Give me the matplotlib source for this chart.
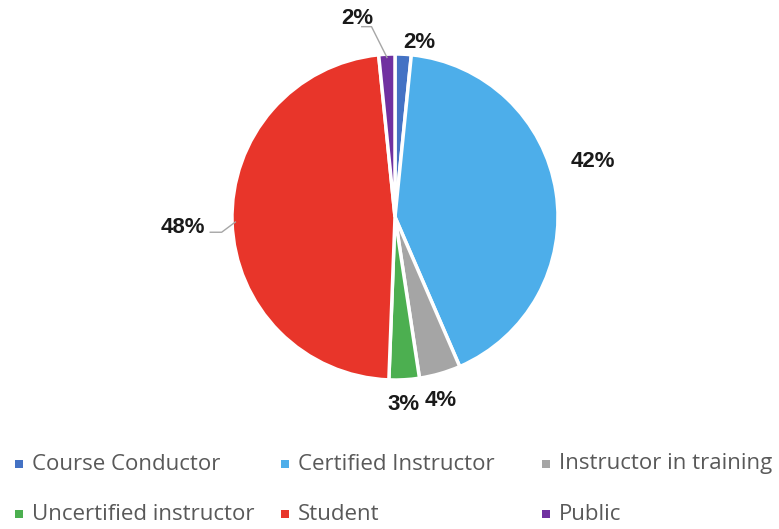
import numpy as np
import matplotlib.pyplot as plt
from matplotlib.patches import Rectangle

# Participant roles and their shares (%)
roles = ['Course Conductor', 'Certified Instructor', 'Instructor in training',
         'Uncertified instructor', 'Student', 'Public']
shares = [1.6, 41.9, 4.1, 3.0, 47.8, 1.6]
colors = ['#4472C4', '#4DAEEA', '#A5A5A5', '#4CAF50', '#E8352A', '#7030A0']

# label placement: radius factor and angle nudge (deg) per slice
lab_r = [1.08, 1.26, 1.16, 1.15, 1.30, 1.24]
lab_da = [-5, 7, -2, -0.5, 1, 8]

W, H = 779, 529
fig = plt.figure(figsize=(W / 100, H / 100), dpi=100)

cx, cy, R = 395, 217, 163
ax = fig.add_axes([(cx - R) / W, (H - cy - R) / H, 2 * R / W, 2 * R / H])

wedges, _ = ax.pie(shares, colors=colors, startangle=90, counterclock=False,
                   radius=1.0, wedgeprops=dict(edgecolor='white', linewidth=2.5))
ax.set_xlim(-1, 1)
ax.set_ylim(-1, 1)
ax.set_aspect('equal')
ax.axis('off')
for w in wedges:
    w.set_clip_on(False)

for i, w in enumerate(wedges):
    mid = (w.theta1 + w.theta2) / 2
    a = np.deg2rad(mid + lab_da[i])
    x, y = lab_r[i] * np.cos(a), lab_r[i] * np.sin(a)
    ax.text(x, y, f'{shares[i]:.0f}%', ha='center', va='center',
            fontsize=16, fontweight='bold', color='#1a1a1a',
            family='Liberation Sans', clip_on=False)
    # leader lines for the labels that sit away from their slice
    if i in (4, 5):
        m = np.deg2rad(mid)
        ex, ey = 0.98 * np.cos(m), 0.98 * np.sin(m)
        if i == 5:
            kx, ky = x + 0.09, y - 0.05
            ax.plot([x + 0.03, kx, ex], [ky, ky, ey], color='#A6A6A6',
                    lw=1, clip_on=False)
        else:
            ky = y - 0.03
            ax.plot([x + 0.165, x + 0.235, ex], [ky, ky, ey], color='#A6A6A6',
                    lw=1, clip_on=False)

# legend in two rows of three
col_x = [15, 281, 542]
row_y = [464, 514]
order = [[0, 1, 2], [3, 4, 5]]
for r, row in enumerate(order):
    for c, k in enumerate(row):
        x0, y0 = col_x[c], row_y[r]
        fig.patches.append(Rectangle(((x0) / W, (H - y0 - 4) / H), 8 / W, 8 / H,
                                     transform=fig.transFigure,
                                     facecolor=colors[k], edgecolor='none'))
        fig.text((x0 + 17) / W, (H - y0) / H, roles[k], ha='left', va='center',
                 fontsize=16, color='#595959', family='Open Sans')

fig.savefig('out.png', dpi=100, facecolor='white')
